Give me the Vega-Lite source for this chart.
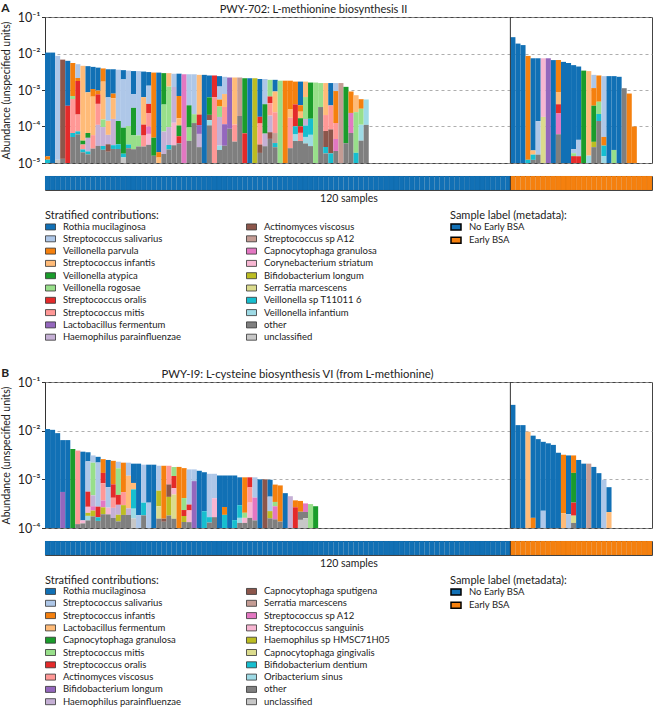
{
"$schema": "https://vega.github.io/schema/vega-lite/v6.json",
"padding": {"left": 1, "top": 1, "right": 0, "bottom": 0},
"config": {
  "font": "Lato",
  "view": {"stroke": "#444", "strokeWidth": 1},
  "axis": {"labelFont": "Lato", "titleFont": "Lato", "domainColor": "#333", "tickColor": "#333", "labelColor": "#222", "titleColor": "#222"},
  "legend": {"labelFont": "Lato", "titleFont": "Lato", "labelColor": "#222", "titleColor": "#222"},
  "title": {"font": "Lato", "color": "#222"}
},
"datasets": {
"meta": [
{"s":0,"g":"No Early BSA"},{"s":1,"g":"No Early BSA"},{"s":2,"g":"No Early BSA"},{"s":3,"g":"No Early BSA"},{"s":4,"g":"No Early BSA"},{"s":5,"g":"No Early BSA"},{"s":6,"g":"No Early BSA"},{"s":7,"g":"No Early BSA"},{"s":8,"g":"No Early BSA"},{"s":9,"g":"No Early BSA"},
{"s":10,"g":"No Early BSA"},{"s":11,"g":"No Early BSA"},{"s":12,"g":"No Early BSA"},{"s":13,"g":"No Early BSA"},{"s":14,"g":"No Early BSA"},{"s":15,"g":"No Early BSA"},{"s":16,"g":"No Early BSA"},{"s":17,"g":"No Early BSA"},{"s":18,"g":"No Early BSA"},{"s":19,"g":"No Early BSA"},
{"s":20,"g":"No Early BSA"},{"s":21,"g":"No Early BSA"},{"s":22,"g":"No Early BSA"},{"s":23,"g":"No Early BSA"},{"s":24,"g":"No Early BSA"},{"s":25,"g":"No Early BSA"},{"s":26,"g":"No Early BSA"},{"s":27,"g":"No Early BSA"},{"s":28,"g":"No Early BSA"},{"s":29,"g":"No Early BSA"},
{"s":30,"g":"No Early BSA"},{"s":31,"g":"No Early BSA"},{"s":32,"g":"No Early BSA"},{"s":33,"g":"No Early BSA"},{"s":34,"g":"No Early BSA"},{"s":35,"g":"No Early BSA"},{"s":36,"g":"No Early BSA"},{"s":37,"g":"No Early BSA"},{"s":38,"g":"No Early BSA"},{"s":39,"g":"No Early BSA"},
{"s":40,"g":"No Early BSA"},{"s":41,"g":"No Early BSA"},{"s":42,"g":"No Early BSA"},{"s":43,"g":"No Early BSA"},{"s":44,"g":"No Early BSA"},{"s":45,"g":"No Early BSA"},{"s":46,"g":"No Early BSA"},{"s":47,"g":"No Early BSA"},{"s":48,"g":"No Early BSA"},{"s":49,"g":"No Early BSA"},
{"s":50,"g":"No Early BSA"},{"s":51,"g":"No Early BSA"},{"s":52,"g":"No Early BSA"},{"s":53,"g":"No Early BSA"},{"s":54,"g":"No Early BSA"},{"s":55,"g":"No Early BSA"},{"s":56,"g":"No Early BSA"},{"s":57,"g":"No Early BSA"},{"s":58,"g":"No Early BSA"},{"s":59,"g":"No Early BSA"},
{"s":60,"g":"No Early BSA"},{"s":61,"g":"No Early BSA"},{"s":62,"g":"No Early BSA"},{"s":63,"g":"No Early BSA"},{"s":64,"g":"No Early BSA"},{"s":65,"g":"No Early BSA"},{"s":66,"g":"No Early BSA"},{"s":67,"g":"No Early BSA"},{"s":68,"g":"No Early BSA"},{"s":69,"g":"No Early BSA"},
{"s":70,"g":"No Early BSA"},{"s":71,"g":"No Early BSA"},{"s":72,"g":"No Early BSA"},{"s":73,"g":"No Early BSA"},{"s":74,"g":"No Early BSA"},{"s":75,"g":"No Early BSA"},{"s":76,"g":"No Early BSA"},{"s":77,"g":"No Early BSA"},{"s":78,"g":"No Early BSA"},{"s":79,"g":"No Early BSA"},
{"s":80,"g":"No Early BSA"},{"s":81,"g":"No Early BSA"},{"s":82,"g":"No Early BSA"},{"s":83,"g":"No Early BSA"},{"s":84,"g":"No Early BSA"},{"s":85,"g":"No Early BSA"},{"s":86,"g":"No Early BSA"},{"s":87,"g":"No Early BSA"},{"s":88,"g":"No Early BSA"},{"s":89,"g":"No Early BSA"},
{"s":90,"g":"No Early BSA"},{"s":91,"g":"No Early BSA"},{"s":92,"g":"Early BSA"},{"s":93,"g":"Early BSA"},{"s":94,"g":"Early BSA"},{"s":95,"g":"Early BSA"},{"s":96,"g":"Early BSA"},{"s":97,"g":"Early BSA"},{"s":98,"g":"Early BSA"},{"s":99,"g":"Early BSA"},
{"s":100,"g":"Early BSA"},{"s":101,"g":"Early BSA"},{"s":102,"g":"Early BSA"},{"s":103,"g":"Early BSA"},{"s":104,"g":"Early BSA"},{"s":105,"g":"Early BSA"},{"s":106,"g":"Early BSA"},{"s":107,"g":"Early BSA"},{"s":108,"g":"Early BSA"},{"s":109,"g":"Early BSA"},
{"s":110,"g":"Early BSA"},{"s":111,"g":"Early BSA"},{"s":112,"g":"Early BSA"},{"s":113,"g":"Early BSA"},{"s":114,"g":"Early BSA"},{"s":115,"g":"Early BSA"},{"s":116,"g":"Early BSA"},{"s":117,"g":"Early BSA"},{"s":118,"g":"Early BSA"},{"s":119,"g":"Early BSA"}
],
"namesA": [
{"k":0,"n":"Rothia mucilaginosa"},{"k":1,"n":"Streptococcus salivarius"},{"k":2,"n":"Veillonella parvula"},{"k":3,"n":"Streptococcus infantis"},{"k":4,"n":"Veillonella atypica"},{"k":5,"n":"Veillonella rogosae"},{"k":6,"n":"Streptococcus oralis"},{"k":7,"n":"Streptococcus mitis"},{"k":8,"n":"Lactobacillus fermentum"},{"k":9,"n":"Haemophilus parainfluenzae"},
{"k":10,"n":"Actinomyces viscosus"},{"k":11,"n":"Streptococcus sp A12"},{"k":12,"n":"Capnocytophaga granulosa"},{"k":13,"n":"Corynebacterium striatum"},{"k":14,"n":"Bifidobacterium longum"},{"k":15,"n":"Serratia marcescens"},{"k":16,"n":"Veillonella sp T11011 6"},{"k":17,"n":"Veillonella infantium"},{"k":18,"n":"other"},{"k":19,"n":"unclassified"}
],
"namesB": [
{"k":0,"n":"Rothia mucilaginosa"},{"k":1,"n":"Streptococcus salivarius"},{"k":2,"n":"Streptococcus infantis"},{"k":3,"n":"Lactobacillus fermentum"},{"k":4,"n":"Capnocytophaga granulosa"},{"k":5,"n":"Streptococcus mitis"},{"k":6,"n":"Streptococcus oralis"},{"k":7,"n":"Actinomyces viscosus"},{"k":8,"n":"Bifidobacterium longum"},{"k":9,"n":"Haemophilus parainfluenzae"},
{"k":10,"n":"Capnocytophaga sputigena"},{"k":11,"n":"Serratia marcescens"},{"k":12,"n":"Streptococcus sp A12"},{"k":13,"n":"Streptococcus sanguinis"},{"k":14,"n":"Haemophilus sp HMSC71H05"},{"k":15,"n":"Capnocytophaga gingivalis"},{"k":16,"n":"Bifidobacterium dentium"},{"k":17,"n":"Oribacterium sinus"},{"k":18,"n":"other"},{"k":19,"n":"unclassified"}
],
"pa": [
{"s":0,"t":0.0106,"k":0,"f":94},{"s":0,"t":0.0106,"k":2,"f":3},{"s":0,"t":0.0106,"k":16,"f":3},
{"s":1,"t":0.0106,"k":0,"f":100},
{"s":2,"t":0.0086,"k":1,"f":97},{"s":2,"t":0.0086,"k":19,"f":3},
{"s":3,"t":0.0068,"k":10,"f":96},{"s":3,"t":0.0068,"k":18,"f":4},
{"s":4,"t":0.0063,"k":0,"f":44},{"s":4,"t":0.0063,"k":6,"f":56},
{"s":5,"t":0.0055,"k":2,"f":33},{"s":5,"t":0.0055,"k":5,"f":3},{"s":5,"t":0.0055,"k":7,"f":34},{"s":5,"t":0.0055,"k":16,"f":4},{"s":5,"t":0.0055,"k":18,"f":26},
{"s":6,"t":0.0051,"k":1,"f":14},{"s":6,"t":0.0051,"k":2,"f":3},{"s":6,"t":0.0051,"k":6,"f":34},{"s":6,"t":0.0051,"k":7,"f":17},{"s":6,"t":0.0051,"k":16,"f":3},{"s":6,"t":0.0051,"k":18,"f":29},
{"s":7,"t":0.0046,"k":3,"f":77},{"s":7,"t":0.0046,"k":4,"f":4},{"s":7,"t":0.0046,"k":7,"f":5},{"s":7,"t":0.0046,"k":16,"f":3},{"s":7,"t":0.0046,"k":18,"f":11},
{"s":8,"t":0.0045,"k":0,"f":27},{"s":8,"t":0.0045,"k":3,"f":42},{"s":8,"t":0.0045,"k":4,"f":5},{"s":8,"t":0.0045,"k":9,"f":14},{"s":8,"t":0.0045,"k":16,"f":3},{"s":8,"t":0.0045,"k":18,"f":9},
{"s":9,"t":0.0043,"k":0,"f":23},{"s":9,"t":0.0043,"k":2,"f":8},{"s":9,"t":0.0043,"k":3,"f":40},{"s":9,"t":0.0043,"k":7,"f":14},{"s":9,"t":0.0043,"k":18,"f":15},
{"s":10,"t":0.0041,"k":0,"f":24},{"s":10,"t":0.0041,"k":2,"f":4},{"s":10,"t":0.0041,"k":6,"f":10},{"s":10,"t":0.0041,"k":7,"f":22},{"s":10,"t":0.0041,"k":9,"f":22},{"s":10,"t":0.0041,"k":18,"f":18},
{"s":11,"t":0.0039,"k":2,"f":14},{"s":11,"t":0.0039,"k":3,"f":40},{"s":11,"t":0.0039,"k":5,"f":8},{"s":11,"t":0.0039,"k":9,"f":20},{"s":11,"t":0.0039,"k":16,"f":4},{"s":11,"t":0.0039,"k":18,"f":14},
{"s":12,"t":0.0037,"k":0,"f":30},{"s":12,"t":0.0037,"k":1,"f":25},{"s":12,"t":0.0037,"k":3,"f":15},{"s":12,"t":0.0037,"k":9,"f":10},{"s":12,"t":0.0037,"k":10,"f":8},{"s":12,"t":0.0037,"k":18,"f":12},
{"s":13,"t":0.0037,"k":0,"f":26},{"s":13,"t":0.0037,"k":2,"f":5},{"s":13,"t":0.0037,"k":3,"f":22},{"s":13,"t":0.0037,"k":9,"f":28},{"s":13,"t":0.0037,"k":16,"f":4},{"s":13,"t":0.0037,"k":18,"f":15},
{"s":14,"t":0.0036,"k":1,"f":55},{"s":14,"t":0.0036,"k":4,"f":25},{"s":14,"t":0.0036,"k":16,"f":5},{"s":14,"t":0.0036,"k":18,"f":15},
{"s":15,"t":0.0035,"k":0,"f":10},{"s":15,"t":0.0035,"k":1,"f":52},{"s":15,"t":0.0035,"k":4,"f":28},{"s":15,"t":0.0035,"k":16,"f":4},{"s":15,"t":0.0035,"k":19,"f":6},
{"s":16,"t":0.0034,"k":1,"f":60},{"s":16,"t":0.0034,"k":5,"f":20},{"s":16,"t":0.0034,"k":16,"f":4},{"s":16,"t":0.0034,"k":18,"f":16},
{"s":17,"t":0.0033,"k":0,"f":25},{"s":17,"t":0.0033,"k":1,"f":15},{"s":17,"t":0.0033,"k":4,"f":30},{"s":17,"t":0.0033,"k":5,"f":15},{"s":17,"t":0.0033,"k":18,"f":15},
{"s":18,"t":0.0033,"k":1,"f":70},{"s":18,"t":0.0033,"k":5,"f":12},{"s":18,"t":0.0033,"k":18,"f":18},
{"s":19,"t":0.0032,"k":0,"f":28},{"s":19,"t":0.0032,"k":3,"f":30},{"s":19,"t":0.0032,"k":6,"f":12},{"s":19,"t":0.0032,"k":7,"f":12},{"s":19,"t":0.0032,"k":18,"f":18},
{"s":20,"t":0.0031,"k":0,"f":15},{"s":20,"t":0.0031,"k":1,"f":20},{"s":20,"t":0.0031,"k":6,"f":10},{"s":20,"t":0.0031,"k":7,"f":15},{"s":20,"t":0.0031,"k":12,"f":8},{"s":20,"t":0.0031,"k":13,"f":12},{"s":20,"t":0.0031,"k":18,"f":20},
{"s":21,"t":0.0030,"k":2,"f":72},{"s":21,"t":0.0030,"k":4,"f":20},{"s":21,"t":0.0030,"k":18,"f":8},
{"s":22,"t":0.0030,"k":0,"f":88},{"s":22,"t":0.0030,"k":2,"f":6},{"s":22,"t":0.0030,"k":3,"f":6},
{"s":23,"t":0.0029,"k":4,"f":35},{"s":23,"t":0.0029,"k":5,"f":30},{"s":23,"t":0.0029,"k":9,"f":25},{"s":23,"t":0.0029,"k":18,"f":10},
{"s":24,"t":0.0029,"k":3,"f":15},{"s":24,"t":0.0029,"k":5,"f":45},{"s":24,"t":0.0029,"k":9,"f":20},{"s":24,"t":0.0029,"k":16,"f":5},{"s":24,"t":0.0029,"k":18,"f":15},
{"s":25,"t":0.0028,"k":1,"f":15},{"s":25,"t":0.0028,"k":9,"f":40},{"s":25,"t":0.0028,"k":13,"f":25},{"s":25,"t":0.0028,"k":18,"f":20},
{"s":26,"t":0.0028,"k":0,"f":25},{"s":26,"t":0.0028,"k":2,"f":25},{"s":26,"t":0.0028,"k":3,"f":8},{"s":26,"t":0.0028,"k":4,"f":12},{"s":26,"t":0.0028,"k":6,"f":8},{"s":26,"t":0.0028,"k":18,"f":22},
{"s":27,"t":0.0027,"k":12,"f":100},
{"s":28,"t":0.0027,"k":1,"f":35},{"s":28,"t":0.0027,"k":4,"f":25},{"s":28,"t":0.0027,"k":5,"f":15},{"s":28,"t":0.0027,"k":18,"f":25},
{"s":29,"t":0.0027,"k":1,"f":45},{"s":29,"t":0.0027,"k":5,"f":10},{"s":29,"t":0.0027,"k":18,"f":45},
{"s":30,"t":0.0026,"k":3,"f":45},{"s":30,"t":0.0026,"k":6,"f":12},{"s":30,"t":0.0026,"k":8,"f":10},{"s":30,"t":0.0026,"k":9,"f":15},{"s":30,"t":0.0026,"k":18,"f":18},
{"s":31,"t":0.0026,"k":0,"f":100},
{"s":32,"t":0.0025,"k":0,"f":25},{"s":32,"t":0.0025,"k":4,"f":20},{"s":32,"t":0.0025,"k":10,"f":6},{"s":32,"t":0.0025,"k":17,"f":6},{"s":32,"t":0.0025,"k":18,"f":43},
{"s":33,"t":0.0025,"k":6,"f":25},{"s":33,"t":0.0025,"k":7,"f":75},
{"s":34,"t":0.0024,"k":0,"f":12},{"s":34,"t":0.0024,"k":1,"f":15},{"s":34,"t":0.0024,"k":2,"f":8},{"s":34,"t":0.0024,"k":5,"f":12},{"s":34,"t":0.0024,"k":9,"f":33},{"s":34,"t":0.0024,"k":17,"f":5},{"s":34,"t":0.0024,"k":18,"f":15},
{"s":35,"t":0.0023,"k":1,"f":20},{"s":35,"t":0.0023,"k":3,"f":15},{"s":35,"t":0.0023,"k":7,"f":20},{"s":35,"t":0.0023,"k":8,"f":25},{"s":35,"t":0.0023,"k":18,"f":20},
{"s":36,"t":0.0022,"k":8,"f":60},{"s":36,"t":0.0022,"k":18,"f":40},
{"s":37,"t":0.0022,"k":3,"f":55},{"s":37,"t":0.0022,"k":7,"f":20},{"s":37,"t":0.0022,"k":18,"f":25},
{"s":38,"t":0.0022,"k":11,"f":45},{"s":38,"t":0.0022,"k":18,"f":55},
{"s":39,"t":0.0021,"k":4,"f":65},{"s":39,"t":0.0021,"k":6,"f":35},
{"s":40,"t":0.0021,"k":0,"f":100},
{"s":41,"t":0.0021,"k":14,"f":100},
{"s":42,"t":0.0020,"k":0,"f":45},{"s":42,"t":0.0020,"k":6,"f":8},{"s":42,"t":0.0020,"k":7,"f":25},{"s":42,"t":0.0020,"k":10,"f":10},{"s":42,"t":0.0020,"k":18,"f":12},
{"s":43,"t":0.0020,"k":1,"f":30},{"s":43,"t":0.0020,"k":4,"f":35},{"s":43,"t":0.0020,"k":9,"f":15},{"s":43,"t":0.0020,"k":18,"f":20},
{"s":44,"t":0.0019,"k":5,"f":20},{"s":44,"t":0.0019,"k":6,"f":8},{"s":44,"t":0.0019,"k":7,"f":15},{"s":44,"t":0.0019,"k":9,"f":20},{"s":44,"t":0.0019,"k":10,"f":8},{"s":44,"t":0.0019,"k":18,"f":29},
{"s":45,"t":0.0019,"k":0,"f":14},{"s":45,"t":0.0019,"k":3,"f":25},{"s":45,"t":0.0019,"k":7,"f":25},{"s":45,"t":0.0019,"k":11,"f":12},{"s":45,"t":0.0019,"k":16,"f":5},{"s":45,"t":0.0019,"k":18,"f":19},
{"s":46,"t":0.0018,"k":5,"f":100},
{"s":47,"t":0.0018,"k":2,"f":100},
{"s":48,"t":0.0018,"k":2,"f":35},{"s":48,"t":0.0018,"k":3,"f":10},{"s":48,"t":0.0018,"k":7,"f":37},{"s":48,"t":0.0018,"k":18,"f":18},
{"s":49,"t":0.0017,"k":2,"f":28},{"s":49,"t":0.0017,"k":6,"f":27},{"s":49,"t":0.0017,"k":16,"f":10},{"s":49,"t":0.0017,"k":17,"f":8},{"s":49,"t":0.0017,"k":18,"f":27},
{"s":50,"t":0.0017,"k":0,"f":29},{"s":50,"t":0.0017,"k":2,"f":8},{"s":50,"t":0.0017,"k":3,"f":8},{"s":50,"t":0.0017,"k":4,"f":10},{"s":50,"t":0.0017,"k":6,"f":8},{"s":50,"t":0.0017,"k":7,"f":10},{"s":50,"t":0.0017,"k":18,"f":27},
{"s":51,"t":0.0017,"k":3,"f":19},{"s":51,"t":0.0017,"k":5,"f":27},{"s":51,"t":0.0017,"k":9,"f":8},{"s":51,"t":0.0017,"k":16,"f":14},{"s":51,"t":0.0017,"k":17,"f":8},{"s":51,"t":0.0017,"k":18,"f":24},
{"s":52,"t":0.0016,"k":4,"f":45},{"s":52,"t":0.0016,"k":16,"f":20},{"s":52,"t":0.0016,"k":17,"f":14},{"s":52,"t":0.0016,"k":18,"f":21},
{"s":53,"t":0.0016,"k":5,"f":100},
{"s":54,"t":0.00155,"k":5,"f":30},{"s":54,"t":0.00155,"k":18,"f":70},
{"s":55,"t":0.00155,"k":3,"f":40},{"s":55,"t":0.00155,"k":7,"f":20},{"s":55,"t":0.00155,"k":10,"f":20},{"s":55,"t":0.00155,"k":16,"f":8},{"s":55,"t":0.00155,"k":18,"f":12},
{"s":56,"t":0.00155,"k":0,"f":28},{"s":56,"t":0.00155,"k":7,"f":30},{"s":56,"t":0.00155,"k":10,"f":30},{"s":56,"t":0.00155,"k":16,"f":12},
{"s":57,"t":0.00155,"k":1,"f":10},{"s":57,"t":0.00155,"k":2,"f":40},{"s":57,"t":0.00155,"k":7,"f":20},{"s":57,"t":0.00155,"k":12,"f":15},{"s":57,"t":0.00155,"k":18,"f":15},
{"s":58,"t":0.00155,"k":11,"f":100},
{"s":59,"t":0.00122,"k":4,"f":74},{"s":59,"t":0.00122,"k":18,"f":26},
{"s":60,"t":0.00091,"k":2,"f":30},{"s":60,"t":0.00091,"k":12,"f":28},{"s":60,"t":0.00091,"k":18,"f":42},
{"s":61,"t":0.00072,"k":3,"f":25},{"s":61,"t":0.00072,"k":5,"f":60},{"s":61,"t":0.00072,"k":16,"f":15},
{"s":62,"t":0.00056,"k":2,"f":15},{"s":62,"t":0.00056,"k":5,"f":25},{"s":62,"t":0.00056,"k":17,"f":25},{"s":62,"t":0.00056,"k":18,"f":35},
{"s":63,"t":0.00055,"k":17,"f":40},{"s":63,"t":0.00055,"k":18,"f":60},
{"s":92,"t":0.028,"k":0,"f":100},
{"s":93,"t":0.0187,"k":0,"f":100},
{"s":94,"t":0.017,"k":0,"f":100},
{"s":95,"t":0.0086,"k":2,"f":97},{"s":95,"t":0.0086,"k":16,"f":3},
{"s":96,"t":0.0074,"k":0,"f":88},{"s":96,"t":0.0074,"k":3,"f":4},{"s":96,"t":0.0074,"k":16,"f":5},{"s":96,"t":0.0074,"k":18,"f":3},
{"s":97,"t":0.0074,"k":0,"f":60},{"s":97,"t":0.0074,"k":1,"f":32},{"s":97,"t":0.0074,"k":18,"f":8},
{"s":98,"t":0.0074,"k":13,"f":56},{"s":98,"t":0.0074,"k":15,"f":44},
{"s":99,"t":0.0074,"k":8,"f":100},
{"s":100,"t":0.0066,"k":0,"f":100},
{"s":101,"t":0.0066,"k":2,"f":31},{"s":101,"t":0.0066,"k":3,"f":12},{"s":101,"t":0.0066,"k":6,"f":9},{"s":101,"t":0.0066,"k":12,"f":20},{"s":101,"t":0.0066,"k":18,"f":28},
{"s":102,"t":0.0059,"k":0,"f":100},
{"s":103,"t":0.0055,"k":0,"f":100},
{"s":104,"t":0.0048,"k":0,"f":86},{"s":104,"t":0.0048,"k":1,"f":4},{"s":104,"t":0.0048,"k":5,"f":3},{"s":104,"t":0.0048,"k":6,"f":7},
{"s":105,"t":0.0044,"k":0,"f":76},{"s":105,"t":0.0044,"k":1,"f":17},{"s":105,"t":0.0044,"k":6,"f":7},
{"s":106,"t":0.0034,"k":4,"f":100},
{"s":107,"t":0.0033,"k":3,"f":92},{"s":107,"t":0.0033,"k":17,"f":8},
{"s":108,"t":0.0026,"k":1,"f":15},{"s":108,"t":0.0026,"k":2,"f":20},{"s":108,"t":0.0026,"k":4,"f":41},{"s":108,"t":0.0026,"k":14,"f":6},{"s":108,"t":0.0026,"k":18,"f":18},
{"s":109,"t":0.0025,"k":2,"f":30},{"s":109,"t":0.0025,"k":5,"f":14},{"s":109,"t":0.0025,"k":16,"f":8},{"s":109,"t":0.0025,"k":18,"f":48},
{"s":110,"t":0.0024,"k":1,"f":70},{"s":110,"t":0.0024,"k":2,"f":10},{"s":110,"t":0.0024,"k":16,"f":12},{"s":110,"t":0.0024,"k":17,"f":8},
{"s":111,"t":0.0024,"k":0,"f":100},
{"s":112,"t":0.0024,"k":0,"f":85},{"s":112,"t":0.0024,"k":5,"f":15},
{"s":113,"t":0.0023,"k":0,"f":100},
{"s":114,"t":0.00112,"k":18,"f":100},
{"s":115,"t":0.0008,"k":2,"f":100},
{"s":116,"t":0.0001,"k":2,"f":100}
],
"pb": [
{"s":0,"t":0.0108,"k":0,"f":100},
{"s":1,"t":0.0104,"k":0,"f":100},
{"s":2,"t":0.0089,"k":0,"f":100},
{"s":3,"t":0.0064,"k":0,"f":59},{"s":3,"t":0.0064,"k":8,"f":41},
{"s":4,"t":0.0064,"k":0,"f":100},
{"s":5,"t":0.0042,"k":4,"f":100},
{"s":6,"t":0.0039,"k":7,"f":95},{"s":6,"t":0.0039,"k":18,"f":5},
{"s":7,"t":0.0037,"k":0,"f":90},{"s":7,"t":0.0037,"k":13,"f":4},{"s":7,"t":0.0037,"k":18,"f":6},
{"s":8,"t":0.0036,"k":0,"f":12},{"s":8,"t":0.0036,"k":1,"f":40},{"s":8,"t":0.0036,"k":6,"f":20},{"s":8,"t":0.0036,"k":13,"f":8},{"s":8,"t":0.0036,"k":14,"f":4},{"s":8,"t":0.0036,"k":17,"f":6},{"s":8,"t":0.0036,"k":18,"f":10},
{"s":9,"t":0.0031,"k":1,"f":10},{"s":9,"t":0.0031,"k":5,"f":45},{"s":9,"t":0.0031,"k":9,"f":15},{"s":9,"t":0.0031,"k":12,"f":6},{"s":9,"t":0.0031,"k":14,"f":8},{"s":9,"t":0.0031,"k":18,"f":16},
{"s":10,"t":0.0029,"k":0,"f":8},{"s":10,"t":0.0029,"k":1,"f":62},{"s":10,"t":0.0029,"k":6,"f":15},{"s":10,"t":0.0029,"k":16,"f":5},{"s":10,"t":0.0029,"k":18,"f":10},
{"s":11,"t":0.0026,"k":2,"f":20},{"s":11,"t":0.0026,"k":6,"f":15},{"s":11,"t":0.0026,"k":7,"f":25},{"s":11,"t":0.0026,"k":12,"f":10},{"s":11,"t":0.0026,"k":14,"f":10},{"s":11,"t":0.0026,"k":18,"f":20},
{"s":12,"t":0.0025,"k":0,"f":40},{"s":12,"t":0.0025,"k":1,"f":30},{"s":12,"t":0.0025,"k":13,"f":10},{"s":12,"t":0.0025,"k":18,"f":20},
{"s":13,"t":0.0024,"k":2,"f":35},{"s":13,"t":0.0024,"k":6,"f":20},{"s":13,"t":0.0024,"k":7,"f":15},{"s":13,"t":0.0024,"k":9,"f":15},{"s":13,"t":0.0024,"k":18,"f":15},
{"s":14,"t":0.0023,"k":1,"f":10},{"s":14,"t":0.0023,"k":5,"f":40},{"s":14,"t":0.0023,"k":6,"f":15},{"s":14,"t":0.0023,"k":9,"f":15},{"s":14,"t":0.0023,"k":14,"f":10},{"s":14,"t":0.0023,"k":18,"f":10},
{"s":15,"t":0.0022,"k":2,"f":45},{"s":15,"t":0.0022,"k":7,"f":20},{"s":15,"t":0.0022,"k":14,"f":15},{"s":15,"t":0.0022,"k":18,"f":20},
{"s":16,"t":0.0022,"k":1,"f":20},{"s":16,"t":0.0022,"k":3,"f":50},{"s":16,"t":0.0022,"k":9,"f":10},{"s":16,"t":0.0022,"k":18,"f":20},
{"s":17,"t":0.0021,"k":0,"f":30},{"s":17,"t":0.0021,"k":3,"f":10},{"s":17,"t":0.0021,"k":16,"f":30},{"s":17,"t":0.0021,"k":17,"f":15},{"s":17,"t":0.0021,"k":19,"f":15},
{"s":18,"t":0.0021,"k":0,"f":80},{"s":18,"t":0.0021,"k":1,"f":20},
{"s":19,"t":0.0020,"k":1,"f":60},{"s":19,"t":0.0020,"k":16,"f":20},{"s":19,"t":0.0020,"k":18,"f":20},
{"s":20,"t":0.0020,"k":0,"f":60},{"s":20,"t":0.0020,"k":1,"f":40},
{"s":21,"t":0.0020,"k":0,"f":100},
{"s":22,"t":0.0019,"k":1,"f":40},{"s":22,"t":0.0019,"k":14,"f":25},{"s":22,"t":0.0019,"k":15,"f":20},{"s":22,"t":0.0019,"k":18,"f":15},
{"s":23,"t":0.0019,"k":2,"f":85},{"s":23,"t":0.0019,"k":10,"f":5},{"s":23,"t":0.0019,"k":18,"f":10},
{"s":24,"t":0.0019,"k":7,"f":30},{"s":24,"t":0.0019,"k":10,"f":20},{"s":24,"t":0.0019,"k":14,"f":30},{"s":24,"t":0.0019,"k":18,"f":20},
{"s":25,"t":0.0018,"k":5,"f":15},{"s":25,"t":0.0018,"k":6,"f":20},{"s":25,"t":0.0018,"k":13,"f":10},{"s":25,"t":0.0018,"k":15,"f":40},{"s":25,"t":0.0018,"k":18,"f":15},
{"s":26,"t":0.0018,"k":2,"f":100},
{"s":27,"t":0.0017,"k":2,"f":50},{"s":27,"t":0.0017,"k":5,"f":20},{"s":27,"t":0.0017,"k":6,"f":10},{"s":27,"t":0.0017,"k":14,"f":10},{"s":27,"t":0.0017,"k":18,"f":10},
{"s":28,"t":0.0016,"k":1,"f":60},{"s":28,"t":0.0016,"k":6,"f":10},{"s":28,"t":0.0016,"k":13,"f":20},{"s":28,"t":0.0016,"k":18,"f":10},
{"s":29,"t":0.0016,"k":1,"f":20},{"s":29,"t":0.0016,"k":8,"f":80},
{"s":30,"t":0.0015,"k":0,"f":100},
{"s":31,"t":0.0014,"k":0,"f":70},{"s":31,"t":0.0014,"k":16,"f":30},
{"s":32,"t":0.0013,"k":1,"f":80},{"s":32,"t":0.0013,"k":16,"f":10},{"s":32,"t":0.0013,"k":18,"f":10},
{"s":33,"t":0.0013,"k":1,"f":45},{"s":33,"t":0.0013,"k":13,"f":35},{"s":33,"t":0.0013,"k":18,"f":20},
{"s":34,"t":0.0012,"k":0,"f":100},
{"s":35,"t":0.0012,"k":0,"f":60},{"s":35,"t":0.0012,"k":2,"f":15},{"s":35,"t":0.0012,"k":16,"f":25},
{"s":36,"t":0.0012,"k":0,"f":100},
{"s":37,"t":0.0012,"k":0,"f":85},{"s":37,"t":0.0012,"k":16,"f":15},
{"s":38,"t":0.0011,"k":0,"f":55},{"s":38,"t":0.0011,"k":16,"f":25},{"s":38,"t":0.0011,"k":17,"f":10},{"s":38,"t":0.0011,"k":18,"f":10},
{"s":39,"t":0.0011,"k":2,"f":70},{"s":39,"t":0.0011,"k":5,"f":10},{"s":39,"t":0.0011,"k":13,"f":10},{"s":39,"t":0.0011,"k":18,"f":10},
{"s":40,"t":0.0011,"k":6,"f":20},{"s":40,"t":0.0011,"k":7,"f":30},{"s":40,"t":0.0011,"k":13,"f":30},{"s":40,"t":0.0011,"k":18,"f":20},
{"s":41,"t":0.0011,"k":1,"f":40},{"s":41,"t":0.0011,"k":12,"f":45},{"s":41,"t":0.0011,"k":18,"f":15},
{"s":42,"t":0.0010,"k":0,"f":100},
{"s":43,"t":0.0010,"k":10,"f":100},
{"s":44,"t":0.00098,"k":0,"f":35},{"s":44,"t":0.00098,"k":1,"f":30},{"s":44,"t":0.00098,"k":14,"f":15},{"s":44,"t":0.00098,"k":18,"f":20},
{"s":45,"t":0.00078,"k":2,"f":40},{"s":45,"t":0.00078,"k":5,"f":10},{"s":45,"t":0.00078,"k":12,"f":30},{"s":45,"t":0.00078,"k":18,"f":20},
{"s":46,"t":0.00075,"k":2,"f":85},{"s":46,"t":0.00075,"k":18,"f":15},
{"s":47,"t":0.00052,"k":0,"f":100},
{"s":48,"t":0.00045,"k":9,"f":100},
{"s":49,"t":0.00037,"k":2,"f":25},{"s":49,"t":0.00037,"k":6,"f":75},
{"s":50,"t":0.00036,"k":2,"f":40},{"s":50,"t":0.00036,"k":18,"f":30},{"s":50,"t":0.00036,"k":19,"f":30},
{"s":51,"t":0.00032,"k":12,"f":35},{"s":51,"t":0.00032,"k":18,"f":25},{"s":51,"t":0.00032,"k":19,"f":40},
{"s":52,"t":0.00031,"k":5,"f":100},
{"s":53,"t":0.00028,"k":4,"f":100},
{"s":92,"t":0.0339,"k":0,"f":100},
{"s":93,"t":0.013,"k":0,"f":100},
{"s":94,"t":0.013,"k":0,"f":100},
{"s":95,"t":0.0095,"k":3,"f":100},
{"s":96,"t":0.0079,"k":0,"f":89},{"s":96,"t":0.0079,"k":2,"f":11},
{"s":97,"t":0.0067,"k":0,"f":100},
{"s":98,"t":0.0059,"k":0,"f":80},{"s":98,"t":0.0059,"k":1,"f":20},
{"s":99,"t":0.0055,"k":0,"f":100},
{"s":100,"t":0.0051,"k":0,"f":100},
{"s":101,"t":0.0035,"k":0,"f":100},
{"s":102,"t":0.0032,"k":2,"f":80},{"s":102,"t":0.0032,"k":3,"f":20},
{"s":103,"t":0.0031,"k":0,"f":81},{"s":103,"t":0.0031,"k":1,"f":19},
{"s":104,"t":0.0031,"k":2,"f":24},{"s":104,"t":0.0031,"k":4,"f":41},{"s":104,"t":0.0031,"k":6,"f":18},{"s":104,"t":0.0031,"k":15,"f":10},{"s":104,"t":0.0031,"k":18,"f":7},
{"s":105,"t":0.0025,"k":0,"f":100},
{"s":106,"t":0.0021,"k":0,"f":100},
{"s":107,"t":0.0021,"k":11,"f":100},
{"s":108,"t":0.0018,"k":0,"f":100},
{"s":109,"t":0.00134,"k":0,"f":100},
{"s":110,"t":0.00098,"k":1,"f":100},
{"s":111,"t":0.00069,"k":0,"f":61},{"s":111,"t":0.00069,"k":3,"f":39}
]
},
"vconcat": [
{
 "title": {"text": "A", "anchor": "start", "frame": "bounds", "fontSize": 12, "fontWeight": "bold", "offset": -11},
 "bounds": "flush",
 "spacing": 13,
 "resolve": {"scale": {"color": "independent"}, "legend": {"color": "independent"}},
 "vconcat": [
  {
   "width": 607, "height": 146,
   "title": {"text": "PWY-702: L-methionine biosynthesis II", "fontSize": 11, "fontWeight": "normal", "anchor": "middle", "offset": -4.2, "dx": -35},
   "layer": [
    {
     "data": {"name": "pa"},
     "transform": [
      {"lookup": "k", "from": {"data": {"name": "namesA"}, "key": "k", "fields": ["n"]}},
      {"joinaggregate": [{"op": "sum", "field": "f", "as": "ft"}], "groupby": ["s"]},
      {"stack": "f", "groupby": ["s"], "sort": [{"field": "k", "order": "descending"}], "as": ["f0", "f1"]},
      {"calculate": "pow(10, -5 + (log(datum.t)/LN10 + 5) * datum.f0 / datum.ft)", "as": "lo"},
      {"calculate": "pow(10, -5 + (log(datum.t)/LN10 + 5) * datum.f1 / datum.ft)", "as": "hi"},
      {"calculate": "datum.s + 1", "as": "s1"}
     ],
     "mark": {"type": "rect"},
     "encoding": {
      "x": {"field": "s", "type": "quantitative", "scale": {"domain": [0, 120], "nice": false, "zero": false}, "axis": null},
      "x2": {"field": "s1"},
      "y": {"field": "lo", "type": "quantitative", "scale": {"type": "log", "domain": [0.00001, 0.1], "nice": false},
        "axis": {"values": [0.00001, 0.0001, 0.001, 0.01, 0.1], "labelExpr": "'10' + ['\u2070','\u207b\u00b9','\u207b\u00b2','\u207b\u00b3','\u207b\u2074','\u207b\u2075'][round(-log(datum.value)/LN10)]",
          "grid": true, "gridDash": [3, 3], "gridColor": "#999", "gridWidth": 0.8, "tickSize": 3.5, "labelFontSize": 12.5, "labelPadding": 1.5,
          "title": "Abundance (unspecified units)", "titleFontSize": 10.5, "titleFontWeight": "normal", "titlePadding": 5.5}},
      "y2": {"field": "hi"},
      "color": {"field": "n", "type": "nominal",
       "scale": {"domain": ["Rothia mucilaginosa","Streptococcus salivarius","Veillonella parvula","Streptococcus infantis","Veillonella atypica","Veillonella rogosae","Streptococcus oralis","Streptococcus mitis","Lactobacillus fermentum","Haemophilus parainfluenzae","Actinomyces viscosus","Streptococcus sp A12","Capnocytophaga granulosa","Corynebacterium striatum","Bifidobacterium longum","Serratia marcescens","Veillonella sp T11011 6","Veillonella infantium","other","unclassified"],
        "range": ["#1170b5","#aec7e8","#f5800e","#ffbb78","#1a9c2b","#98df8a","#e42a2a","#ff9896","#9467bd","#c5b0d5","#8c564b","#c49c94","#e377c2","#f7b6d2","#bcbd22","#dbdb8d","#17becf","#9edae5","#7f7f7f","#c7c7c7"]},
       "legend": {"title": "Stratified contributions:", "orient": "none", "legendX": 0, "legendY": 193, "columns": 2, "columnPadding": 63, "rowPadding": 1.3,
        "symbolType": "M-1,-0.6H1V0.6H-1Z", "symbolSize": 100, "labelFontSize": 9.5, "labelOffset": 7, "titleFontSize": 11, "titleFontWeight": "normal", "titlePadding": 0,
        "encode": {"symbols": {"update": {"stroke": {"value": "#333"}, "strokeWidth": {"value": 0.8}}}}}}
     }
    },
    {
     "data": {"name": "meta"},
     "transform": [{"filter": "datum.g === 'Early BSA'"}, {"aggregate": [{"op": "min", "field": "s", "as": "b"}]}],
     "mark": {"type": "rule", "color": "#333", "strokeWidth": 1},
     "encoding": {"x": {"field": "b", "type": "quantitative", "axis": null}}
    }
   ]
  },
  {
   "width": 607, "height": 14,
   "layer": [
    {
     "data": {"name": "meta"},
     "transform": [{"calculate": "datum.s + 1", "as": "s1"}],
     "mark": {"type": "rect", "stroke": "#000", "strokeOpacity": 0.07, "strokeWidth": 0.5},
     "encoding": {
      "x": {"field": "s", "type": "quantitative", "scale": {"domain": [0, 120], "nice": false, "zero": false},
        "axis": {"title": "120 samples", "labels": false, "ticks": false, "domain": false, "grid": false, "titleFontSize": 10.5, "titleFontWeight": "normal", "titlePadding": 3}},
      "x2": {"field": "s1"},
      "color": {"field": "g", "type": "nominal", "scale": {"domain": ["No Early BSA", "Early BSA"], "range": ["#1170b5", "#f5800e"]},
       "legend": {"title": "Sample label (metadata):", "orient": "none", "legendX": 405, "legendY": 34, "rowPadding": 1.3,
        "symbolType": "M-1,-0.6H1V0.6H-1Z", "symbolSize": 100, "labelFontSize": 9.5, "labelOffset": 7, "titleFontSize": 11, "titleFontWeight": "normal", "titlePadding": 0,
        "encode": {"symbols": {"update": {"stroke": {"value": "#333"}, "strokeWidth": {"value": 0.8}}}}}}
     }
    },
    {
     "data": {"name": "meta"},
     "transform": [{"filter": "datum.g === 'Early BSA'"}, {"aggregate": [{"op": "min", "field": "s", "as": "b"}]}],
     "mark": {"type": "rule", "color": "#333", "strokeWidth": 1},
     "encoding": {"x": {"field": "b", "type": "quantitative", "axis": {"title": "120 samples", "labels": false, "ticks": false, "domain": false, "grid": false, "titleFontSize": 10.5, "titleFontWeight": "normal", "titlePadding": 3}}}
    }
   ]
  }
 ]
},
{
 "title": {"text": "B", "anchor": "start", "frame": "bounds", "fontSize": 12, "fontWeight": "bold", "offset": -11},
 "bounds": "flush",
 "spacing": 13,
 "resolve": {"scale": {"color": "independent"}, "legend": {"color": "independent"}},
 "vconcat": [
  {
   "width": 607, "height": 146,
   "title": {"text": "PWY-I9: L-cysteine biosynthesis VI (from L-methionine)", "fontSize": 11.3, "fontWeight": "normal", "anchor": "middle", "offset": -4.5, "dx": -51},
   "layer": [
    {
     "data": {"name": "pb"},
     "transform": [
      {"lookup": "k", "from": {"data": {"name": "namesB"}, "key": "k", "fields": ["n"]}},
      {"joinaggregate": [{"op": "sum", "field": "f", "as": "ft"}], "groupby": ["s"]},
      {"stack": "f", "groupby": ["s"], "sort": [{"field": "k", "order": "descending"}], "as": ["f0", "f1"]},
      {"calculate": "pow(10, -4 + (log(datum.t)/LN10 + 4) * datum.f0 / datum.ft)", "as": "lo"},
      {"calculate": "pow(10, -4 + (log(datum.t)/LN10 + 4) * datum.f1 / datum.ft)", "as": "hi"},
      {"calculate": "datum.s + 1", "as": "s1"}
     ],
     "mark": {"type": "rect"},
     "encoding": {
      "x": {"field": "s", "type": "quantitative", "scale": {"domain": [0, 120], "nice": false, "zero": false}, "axis": null},
      "x2": {"field": "s1"},
      "y": {"field": "lo", "type": "quantitative", "scale": {"type": "log", "domain": [0.0001, 0.1], "nice": false},
        "axis": {"values": [0.0001, 0.001, 0.01, 0.1], "labelExpr": "'10' + ['\u2070','\u207b\u00b9','\u207b\u00b2','\u207b\u00b3','\u207b\u2074','\u207b\u2075'][round(-log(datum.value)/LN10)]",
          "grid": true, "gridDash": [3, 3], "gridColor": "#999", "gridWidth": 0.8, "tickSize": 3.5, "labelFontSize": 12.5, "labelPadding": 1.5,
          "title": "Abundance (unspecified units)", "titleFontSize": 10.5, "titleFontWeight": "normal", "titlePadding": 5.5}},
      "y2": {"field": "hi"},
      "color": {"field": "n", "type": "nominal",
       "scale": {"domain": ["Rothia mucilaginosa","Streptococcus salivarius","Streptococcus infantis","Lactobacillus fermentum","Capnocytophaga granulosa","Streptococcus mitis","Streptococcus oralis","Actinomyces viscosus","Bifidobacterium longum","Haemophilus parainfluenzae","Capnocytophaga sputigena","Serratia marcescens","Streptococcus sp A12","Streptococcus sanguinis","Haemophilus sp HMSC71H05","Capnocytophaga gingivalis","Bifidobacterium dentium","Oribacterium sinus","other","unclassified"],
        "range": ["#1170b5","#aec7e8","#f5800e","#ffbb78","#1a9c2b","#98df8a","#e42a2a","#ff9896","#9467bd","#c5b0d5","#8c564b","#c49c94","#e377c2","#f7b6d2","#bcbd22","#dbdb8d","#17becf","#9edae5","#7f7f7f","#c7c7c7"]},
       "legend": {"title": "Stratified contributions:", "orient": "none", "legendX": 0, "legendY": 192.5, "columns": 2, "columnPadding": 63, "rowPadding": 1.3,
        "symbolType": "M-1,-0.6H1V0.6H-1Z", "symbolSize": 100, "labelFontSize": 9.5, "labelOffset": 7, "titleFontSize": 11, "titleFontWeight": "normal", "titlePadding": 0,
        "encode": {"symbols": {"update": {"stroke": {"value": "#333"}, "strokeWidth": {"value": 0.8}}}}}}
     }
    },
    {
     "data": {"name": "meta"},
     "transform": [{"filter": "datum.g === 'Early BSA'"}, {"aggregate": [{"op": "min", "field": "s", "as": "b"}]}],
     "mark": {"type": "rule", "color": "#333", "strokeWidth": 1},
     "encoding": {"x": {"field": "b", "type": "quantitative", "axis": null}}
    }
   ]
  },
  {
   "width": 607, "height": 14,
   "layer": [
    {
     "data": {"name": "meta"},
     "transform": [{"calculate": "datum.s + 1", "as": "s1"}],
     "mark": {"type": "rect", "stroke": "#000", "strokeOpacity": 0.07, "strokeWidth": 0.5},
     "encoding": {
      "x": {"field": "s", "type": "quantitative", "scale": {"domain": [0, 120], "nice": false, "zero": false},
        "axis": {"title": "120 samples", "labels": false, "ticks": false, "domain": false, "grid": false, "titleFontSize": 10.5, "titleFontWeight": "normal", "titlePadding": 3}},
      "x2": {"field": "s1"},
      "color": {"field": "g", "type": "nominal", "scale": {"domain": ["No Early BSA", "Early BSA"], "range": ["#1170b5", "#f5800e"]},
       "legend": {"title": "Sample label (metadata):", "orient": "none", "legendX": 405, "legendY": 34, "rowPadding": 1.3,
        "symbolType": "M-1,-0.6H1V0.6H-1Z", "symbolSize": 100, "labelFontSize": 9.5, "labelOffset": 7, "titleFontSize": 11, "titleFontWeight": "normal", "titlePadding": 0,
        "encode": {"symbols": {"update": {"stroke": {"value": "#333"}, "strokeWidth": {"value": 0.8}}}}}}
     }
    },
    {
     "data": {"name": "meta"},
     "transform": [{"filter": "datum.g === 'Early BSA'"}, {"aggregate": [{"op": "min", "field": "s", "as": "b"}]}],
     "mark": {"type": "rule", "color": "#333", "strokeWidth": 1},
     "encoding": {"x": {"field": "b", "type": "quantitative", "axis": {"title": "120 samples", "labels": false, "ticks": false, "domain": false, "grid": false, "titleFontSize": 10.5, "titleFontWeight": "normal", "titlePadding": 3}}}
    }
   ]
  }
 ]
}
],
"spacing": 365,
"bounds": "flush",
"resolve": {"scale": {"color": "independent"}, "legend": {"color": "independent"}}
}
